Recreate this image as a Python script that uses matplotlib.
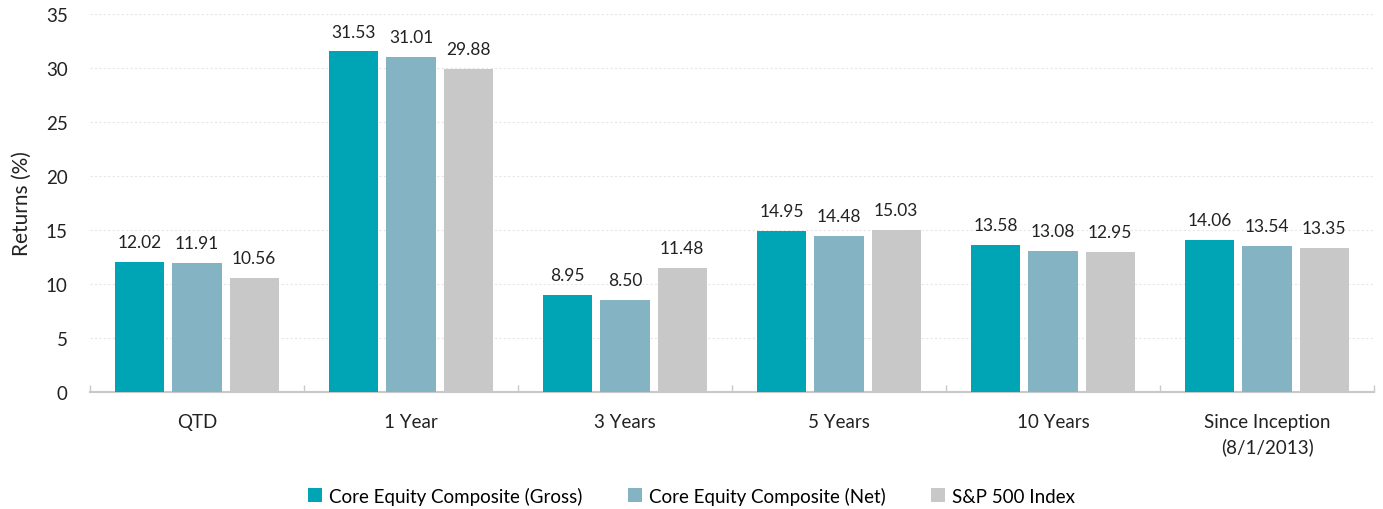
import matplotlib
matplotlib.use("Agg")
import matplotlib.pyplot as plt
import numpy as np

plt.rcParams['font.family'] = ['Lato', 'DejaVu Sans']

categories = ["QTD", "1 Year", "3 Years", "5 Years", "10 Years", "Since Inception\n(8/1/2013)"]
series_names = ["Core Equity Composite (Gross)", "Core Equity Composite (Net)", "S&P 500 Index"]
gross = [12.02, 31.53, 8.95, 14.95, 13.58, 14.06]
net = [11.91, 31.01, 8.50, 14.48, 13.08, 13.54]
sp500 = [10.56, 29.88, 11.48, 15.03, 12.95, 13.35]
colors = ["#00A5B5", "#84B3C4", "#C8C8C8"]

fig = plt.figure(figsize=(13.83, 5.10), dpi=100)
ax = fig.add_axes([90 / 1383, 1 - 393 / 510, (1374 - 90) / 1383, (393 - 15) / 510])

x = np.arange(len(categories))
width = 0.23
offset = 0.267
for i, (vals, name) in enumerate(zip([gross, net, sp500], series_names)):
    pos = x + (i - 1) * offset
    ax.bar(pos, vals, width, color=colors[i], label=name, zorder=3)
    for p, v in zip(pos, vals):
        ax.text(p, v + 1.1, f"{v:.2f}", ha="center", va="bottom", fontsize=12.5, color="#222222")

ax.set_xlim(-0.5, len(categories) - 0.5)
ax.set_ylim(0, 35)
ax.set_yticks(range(0, 36, 5))
ax.yaxis.grid(True, linestyle=(0, (2, 2)), color="#E6E6E6", linewidth=0.8, zorder=0)
ax.set_axisbelow(True)

for s in ["top", "right", "left"]:
    ax.spines[s].set_visible(False)
ax.spines["bottom"].set_color("#C8C8C8")
ax.spines["bottom"].set_linewidth(1.5)

ax.set_xticks(x)
ax.set_xticklabels(categories, fontsize=13.5, color="#222222", linespacing=1.5)
ax.tick_params(axis="x", length=0, pad=15)
ax.set_xticks(np.arange(-0.5, len(categories)), minor=True)
ax.tick_params(axis="x", which="minor", direction="in", length=5, color="#C8C8C8", width=1)
ax.tick_params(axis="y", length=0, labelsize=13.5, labelcolor="#222222", pad=16)
ax.set_ylabel("Returns (%)", fontsize=15, color="#222222", labelpad=10)

fig.legend(loc="lower center", bbox_to_anchor=(0.5, -0.025), ncol=3, frameon=False,
           fontsize=13.5, handlelength=0.75, handleheight=0.75, handletextpad=0.4,
           columnspacing=2.4)

fig.savefig("out.png", dpi=100)
